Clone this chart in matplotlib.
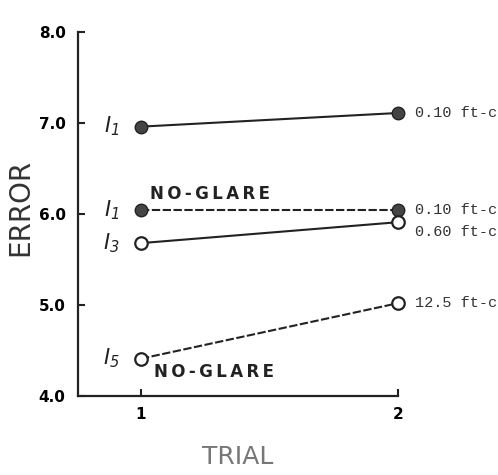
import matplotlib
matplotlib.use("Agg")
import matplotlib.pyplot as plt

trials = [1, 2]
i1_glare = [6.96, 7.11]
i1_noglare = [6.04, 6.04]
i3_glare = [5.68, 5.91]
i5_noglare = [4.41, 5.02]

right_labels = ["0.10 ft-c", "0.10 ft-c", "0.60 ft-c", "12.5 ft-c"]
left_labels = ["1", "1", "3", "5"]
yticks = [4.0, 5.0, 6.0, 7.0, 8.0]
ytick_labels = ["4.0", "5.0", "6.0", "7.0", "8.0"]
noglare_text = "\u2009".join("NO-GLARE")

fig = plt.figure(figsize=(4.98, 4.75), dpi=100)
ax = fig.add_axes([78/498, 1 - 396/475, 320/498, 364/475])
ax.set_xlim(0.755, 2.0)
ax.set_ylim(4.0, 8.0)
for s in ["top", "right"]:
    ax.spines[s].set_visible(False)
for s in ["left", "bottom"]:
    ax.spines[s].set_linewidth(1.6)
    ax.spines[s].set_color("#222222")

ms = 9
kw = dict(color="#222222", lw=1.5, clip_on=False, zorder=3)
ax.plot(trials, i1_glare, "-", marker="o", ms=ms, mfc="#444444", mec="#222222", **kw)
ax.plot(trials, i1_noglare, "--", marker="o", ms=ms, mfc="#444444", mec="#222222",
        dashes=(4, 1.2), **kw)
ax.plot(trials, i3_glare, "-", marker="o", ms=ms, mfc="white", mec="#222222", mew=1.6, **kw)
ax.plot(trials, i5_noglare, "--", marker="o", ms=ms, mfc="white", mec="#222222", mew=1.6,
        dashes=(4, 1.2), **kw)

ax.set_yticks(yticks)
ax.set_yticklabels(ytick_labels, fontweight="bold", fontsize=11)
ax.set_xticks(trials)
ax.set_xticklabels(["1", "2"], fontweight="bold", fontsize=11)
ax.tick_params(axis="both", direction="in", length=5, width=1.5, color="#222222")
ax.tick_params(axis="x", pad=8)
ax.tick_params(axis="y", pad=9)

# left I labels
series_vals = [i1_glare[0], i1_noglare[0], i3_glare[0], i5_noglare[0]]
for v, sub in zip(series_vals, left_labels):
    ax.text(0.885, v, r"$\mathregular{I_{%s}}$" % sub, fontsize=15, ha="center",
            va="center", color="#222222", style="italic")

# right labels
right_vals = [i1_glare[1], i1_noglare[1], i3_glare[1], i5_noglare[1]]
offs = [0, 0.0, -0.11, 0.0]
for v, lab, o in zip(right_vals, right_labels, offs):
    ax.text(2.066, v + o, lab, fontsize=11, family="Liberation Mono",
            ha="left", va="center", color="#333333", clip_on=False)

ax.text(1.035, 6.22, noglare_text, fontsize=12, fontweight="bold",
        ha="left", va="center", color="#222222")
ax.text(1.05, 4.26, noglare_text, fontsize=12, fontweight="bold",
        ha="left", va="center", color="#222222")

fig.text(20/498, 1 - 207/475, "ERROR", rotation=90, fontsize=20, ha="center",
         va="center", color="#333333")
fig.text(238/498, 1 - 457/475, "TRIAL", fontsize=18, ha="center",
         va="center", color="#777777")

fig.savefig("out.png", dpi=100)
